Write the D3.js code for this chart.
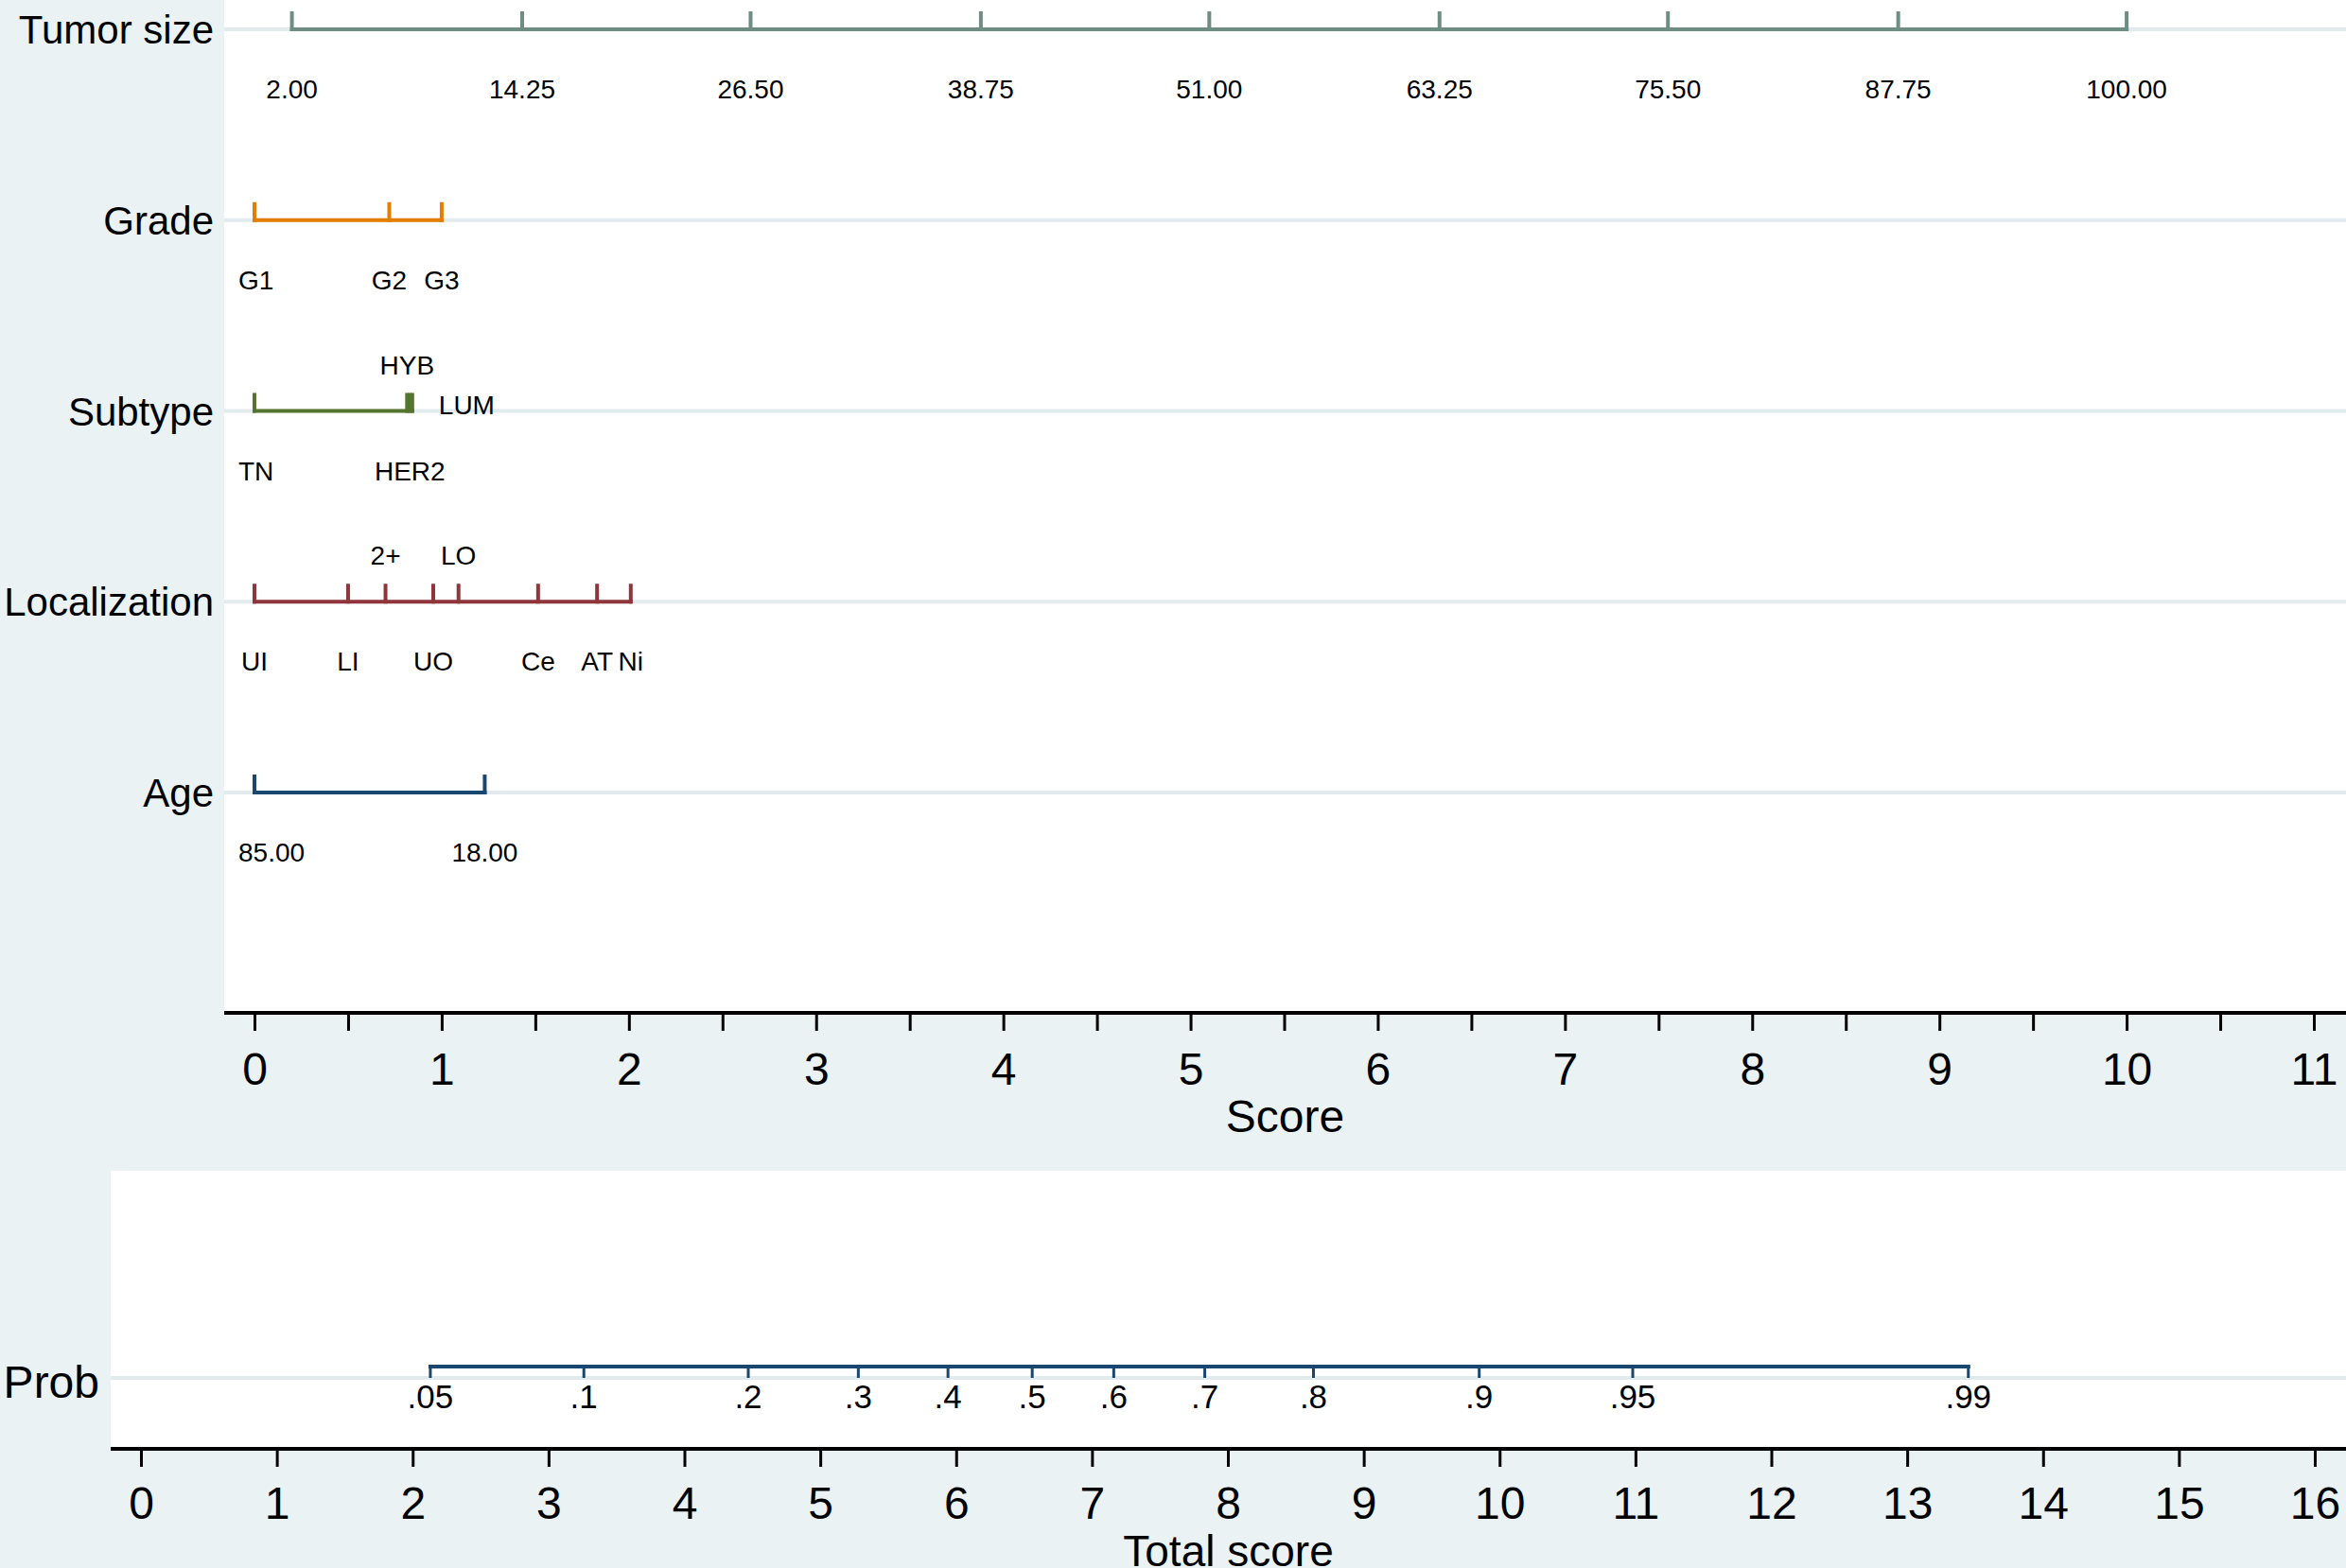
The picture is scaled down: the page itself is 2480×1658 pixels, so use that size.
<!DOCTYPE html>
<html>
<head>
<meta charset="utf-8">
<script src="https://cdn.jsdelivr.net/npm/d3@7"></script>
<style>
  body { margin: 0; background: #eaf2f3; }
  text { font-family: "Liberation Sans", Arial, sans-serif; fill: #000; }
</style>
</head>
<body>
<div id="nomogram"></div>
<script>
// ---- data ----
var rowNames = ["Tumor size", "Grade", "Subtype", "Localization", "Age"];

var tumorLabels = ["2.00", "14.25", "26.50", "38.75", "51.00", "63.25", "75.50", "87.75", "100.00"];
var tumorScores = [0.20, 1.43, 2.65, 3.88, 5.10, 6.33, 7.55, 8.78, 10.00];

var gradeLabels = ["G1", "G2", "G3"];
var gradeScores = [0, 0.72, 1.00];

var subtypeLabels = ["TN", "HYB", "HER2", "LUM"];
var subtypeScores = [0, 0.815, 0.83, 0.843];

var locLabels = ["UI", "LI", "2+", "UO", "LO", "Ce", "AT", "Ni"];
var locScores = [0, 0.50, 0.70, 0.955, 1.09, 1.515, 1.83, 2.01];

var ageLabels = ["85.00", "18.00"];
var ageScores = [0, 1.23];

var probLabels = [".05", ".1", ".2", ".3", ".4", ".5", ".6", ".7", ".8", ".9", ".95", ".99"];
var probTotals = [2.13, 3.26, 4.47, 5.28, 5.94, 6.56, 7.16, 7.83, 8.63, 9.85, 10.98, 13.45];

var scoreTicks = d3.range(0, 11.01, 0.5);
var totalTicks = d3.range(0, 17);

// label placement (style only)
var tumorPos = tumorLabels.map(function() { return "below"; });
var gradePos = ["below", "below", "below"];
var subtypePos = ["below", "above", "below", "right"];
var locPos = ["below", "below", "above", "below", "above", "below", "below", "below"];
var agePos = ["below", "below"];

var rowColors = ["#6e8e84", "#e37e00", "#55752f", "#90353b", "#1a476f"];
var probColor = "#1a476f";

var rows = [
  {labels: tumorLabels, scores: tumorScores, pos: tumorPos},
  {labels: gradeLabels, scores: gradeScores, pos: gradePos},
  {labels: subtypeLabels, scores: subtypeScores, pos: subtypePos},
  {labels: locLabels, scores: locScores, pos: locPos},
  {labels: ageLabels, scores: ageScores, pos: agePos}
];

// ---- layout ----
var W = 2480, H = 1658;
var bg = "#eaf2f3", grid = "#e1eaed";
var topPanel = {x0: 237, y0: 0, y1: 1071};
var botPanel = {x0: 117, y0: 1238, y1: 1532};
var tickLen = 19;

var svg = d3.select("#nomogram").append("svg")
  .attr("width", W).attr("height", H)
  .style("display", "block");

svg.append("rect").attr("width", W).attr("height", H).attr("fill", bg);

var xScore = d3.scaleLinear().domain([0, 11]).range([269, 2446]);
var yRow = d3.scalePoint().domain(rowNames).range([31, 838]);
var xTotal = d3.scaleLinear().domain([0, 16]).range([149, 2447]);

// top panel
svg.append("rect")
  .attr("x", topPanel.x0).attr("y", topPanel.y0)
  .attr("width", W - topPanel.x0).attr("height", topPanel.y1 - topPanel.y0)
  .attr("fill", "#fff");

svg.append("g").selectAll("line")
  .data(rowNames)
  .enter().append("line")
  .attr("x1", topPanel.x0).attr("x2", W)
  .attr("y1", function(d) { return yRow(d); })
  .attr("y2", function(d) { return yRow(d); })
  .attr("stroke", grid).attr("stroke-width", 4);

// row labels
svg.append("g").selectAll("text")
  .data(rowNames)
  .enter().append("text")
  .attr("x", 226)
  .attr("y", function(d) { return yRow(d) + 15; })
  .attr("text-anchor", "end")
  .attr("font-size", 42)
  .text(function(d) { return d; });

// brackets for each variable
rows.forEach(function(r, i) {
  var y = yRow(rowNames[i]);
  var g = svg.append("g");
  var ext = d3.extent(r.scores);
  g.append("line")
    .attr("x1", xScore(ext[0]) - 2).attr("x2", xScore(ext[1]) + 2)
    .attr("y1", y).attr("y2", y)
    .attr("stroke", rowColors[i]).attr("stroke-width", 4);
  g.selectAll("line.tk")
    .data(r.scores)
    .enter().append("line")
    .attr("class", "tk")
    .attr("x1", function(d) { return xScore(d); })
    .attr("x2", function(d) { return xScore(d); })
    .attr("y1", y + 2).attr("y2", y - tickLen)
    .attr("stroke", rowColors[i]).attr("stroke-width", 4);
  g.selectAll("text")
    .data(r.labels)
    .enter().append("text")
    .attr("font-size", 28)
    .attr("text-anchor", function(d, j) { return r.pos[j] == "right" ? "start" : "middle"; })
    .attr("x", function(d, j) {
      return r.pos[j] == "right" ? xScore(r.scores[j]) + 28 : xScore(r.scores[j]);
    })
    .attr("y", function(d, j) {
      if (r.pos[j] == "above") return y - 39;
      if (r.pos[j] == "right") return y + 3;
      return y + 73;
    })
    .text(function(d) { return d; })
    .each(function() {
      // keep labels off the panel edge
      var b = this.getBBox();
      if (b.x < topPanel.x0 + 15) {
        d3.select(this).attr("x", +d3.select(this).attr("x") + (topPanel.x0 + 15 - b.x));
      }
    });
});

// score axis
svg.append("line")
  .attr("x1", topPanel.x0).attr("x2", W)
  .attr("y1", topPanel.y1).attr("y2", topPanel.y1)
  .attr("stroke", "#000").attr("stroke-width", 4);

var scoreAxis = svg.append("g")
  .attr("transform", "translate(0," + topPanel.y1 + ")")
  .call(d3.axisBottom(xScore)
    .tickValues(scoreTicks)
    .tickSize(tickLen)
    .tickPadding(23)
    .tickFormat(function(d) { return Number.isInteger(d) ? d : ""; }));
scoreAxis.select(".domain").remove();
scoreAxis.selectAll(".tick line").attr("stroke", "#000").attr("stroke-width", 3);
scoreAxis.selectAll(".tick text").attr("font-size", 48).attr("font-family", null);

svg.append("text")
  .attr("x", (topPanel.x0 + W) / 2).attr("y", 1197)
  .attr("text-anchor", "middle").attr("font-size", 48)
  .text("Score");

// probability panel
svg.append("rect")
  .attr("x", botPanel.x0).attr("y", botPanel.y0)
  .attr("width", W - botPanel.x0).attr("height", botPanel.y1 - botPanel.y0)
  .attr("fill", "#fff");

var probY = 1457;
svg.append("line")
  .attr("x1", botPanel.x0).attr("x2", W)
  .attr("y1", probY).attr("y2", probY)
  .attr("stroke", grid).attr("stroke-width", 4);

svg.append("text")
  .attr("x", 105).attr("y", probY + 21)
  .attr("text-anchor", "end").attr("font-size", 48)
  .text("Prob");

var pg = svg.append("g");
var pExt = d3.extent(probTotals);
pg.append("line")
  .attr("x1", xTotal(pExt[0]) - 2).attr("x2", xTotal(pExt[1]) + 2)
  .attr("y1", probY - 12).attr("y2", probY - 12)
  .attr("stroke", probColor).attr("stroke-width", 4);
pg.selectAll("line.tk")
  .data(probTotals)
  .enter().append("line")
  .attr("class", "tk")
  .attr("x1", function(d) { return xTotal(d); })
  .attr("x2", function(d) { return xTotal(d); })
  .attr("y1", probY - 14).attr("y2", probY)
  .attr("stroke", probColor).attr("stroke-width", 3);
pg.selectAll("text")
  .data(probLabels)
  .enter().append("text")
  .attr("x", function(d, j) { return xTotal(probTotals[j]); })
  .attr("y", probY + 32)
  .attr("text-anchor", "middle").attr("font-size", 35)
  .text(function(d) { return d; });

// total score axis
svg.append("line")
  .attr("x1", botPanel.x0).attr("x2", W)
  .attr("y1", botPanel.y1).attr("y2", botPanel.y1)
  .attr("stroke", "#000").attr("stroke-width", 4);

var totalAxis = svg.append("g")
  .attr("transform", "translate(0," + botPanel.y1 + ")")
  .call(d3.axisBottom(xTotal)
    .tickValues(totalTicks)
    .tickSize(tickLen)
    .tickPadding(21)
    .tickFormat(d3.format("d")));
totalAxis.select(".domain").remove();
totalAxis.selectAll(".tick line").attr("stroke", "#000").attr("stroke-width", 3);
totalAxis.selectAll(".tick text").attr("font-size", 48).attr("font-family", null);

svg.append("text")
  .attr("x", (botPanel.x0 + W) / 2).attr("y", 1656)
  .attr("text-anchor", "middle").attr("font-size", 46)
  .text("Total score");
</script>
</body>
</html>
